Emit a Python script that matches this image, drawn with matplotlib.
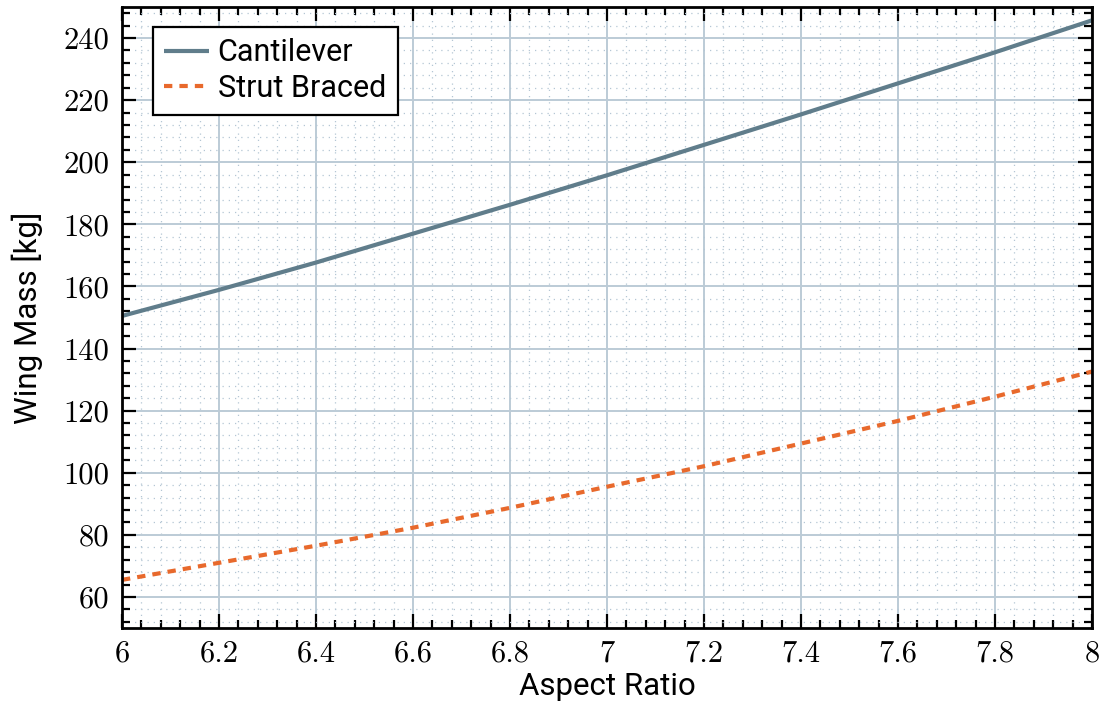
import matplotlib
matplotlib.use('Agg')
import matplotlib.pyplot as plt
from matplotlib.ticker import MultipleLocator, FormatStrFormatter

# aspect ratio sweep and resulting wing masses
aspect_ratio = [6.0, 6.2, 6.4, 6.6, 6.8, 7.0, 7.2, 7.4, 7.6, 7.8, 8.0]
mass_cantilever = [150.5, 158.9, 167.7, 177.0, 186.3, 195.8, 205.6, 215.4, 225.4, 235.4, 245.7]
mass_strut = [65.5, 71.0, 76.5, 82.3, 88.7, 95.5, 102.1, 109.4, 116.7, 124.5, 132.6]

plt.rcParams['font.family'] = ['Roboto', 'DejaVu Sans']

fig = plt.figure(figsize=(11.01, 7.13), dpi=100)
ax = fig.add_axes([0.1108, 0.1192, 0.8810, 0.8710])

ax.plot(aspect_ratio, mass_cantilever, color='#607d8b', lw=3.0,
        label='Cantilever', solid_capstyle='butt')
ax.plot(aspect_ratio, mass_strut, color='#e8692c', lw=3.0,
        dashes=(2.0, 1.7), label='Strut Braced')

ax.set_xlim(6, 8)
ax.set_ylim(50, 250)

ax.xaxis.set_major_locator(MultipleLocator(0.2))
ax.xaxis.set_minor_locator(MultipleLocator(0.04))
ax.yaxis.set_major_locator(MultipleLocator(20))
ax.yaxis.set_minor_locator(MultipleLocator(4))
ax.xaxis.set_major_formatter(FormatStrFormatter('%g'))
ax.yaxis.set_major_formatter(FormatStrFormatter('%g'))

ax.grid(which='major', color='#bccbd6', lw=1.4)
ax.grid(which='minor', color='#b4c6d4', lw=0.9, linestyle=(0, (1, 4)))
ax.set_axisbelow(True)

ax.tick_params(which='both', direction='in', top=True, right=True,
               width=1.6, color='black')
ax.tick_params(which='major', length=10, labelsize=22, pad=9)
ax.tick_params(which='minor', length=5.5)
for lbl in ax.get_xticklabels() + ax.get_yticklabels():
    lbl.set_fontfamily('cmr10')

for sp in ax.spines.values():
    sp.set_linewidth(2.0)
    sp.set_color('black')

ax.set_xlabel('Aspect Ratio', fontsize=22.5, labelpad=3)
ax.set_ylabel('Wing Mass [kg]', fontsize=22.5, labelpad=15)

leg = ax.legend(loc='upper left', fontsize=22, fancybox=False, framealpha=1,
                edgecolor='black', handlelength=1.45, borderpad=0.38,
                labelspacing=0.22, handletextpad=0.3,
                bbox_to_anchor=(0.0316, 0.968), borderaxespad=0.0)
leg.get_frame().set_linewidth(1.6)

fig.savefig('out.png', dpi=100)
